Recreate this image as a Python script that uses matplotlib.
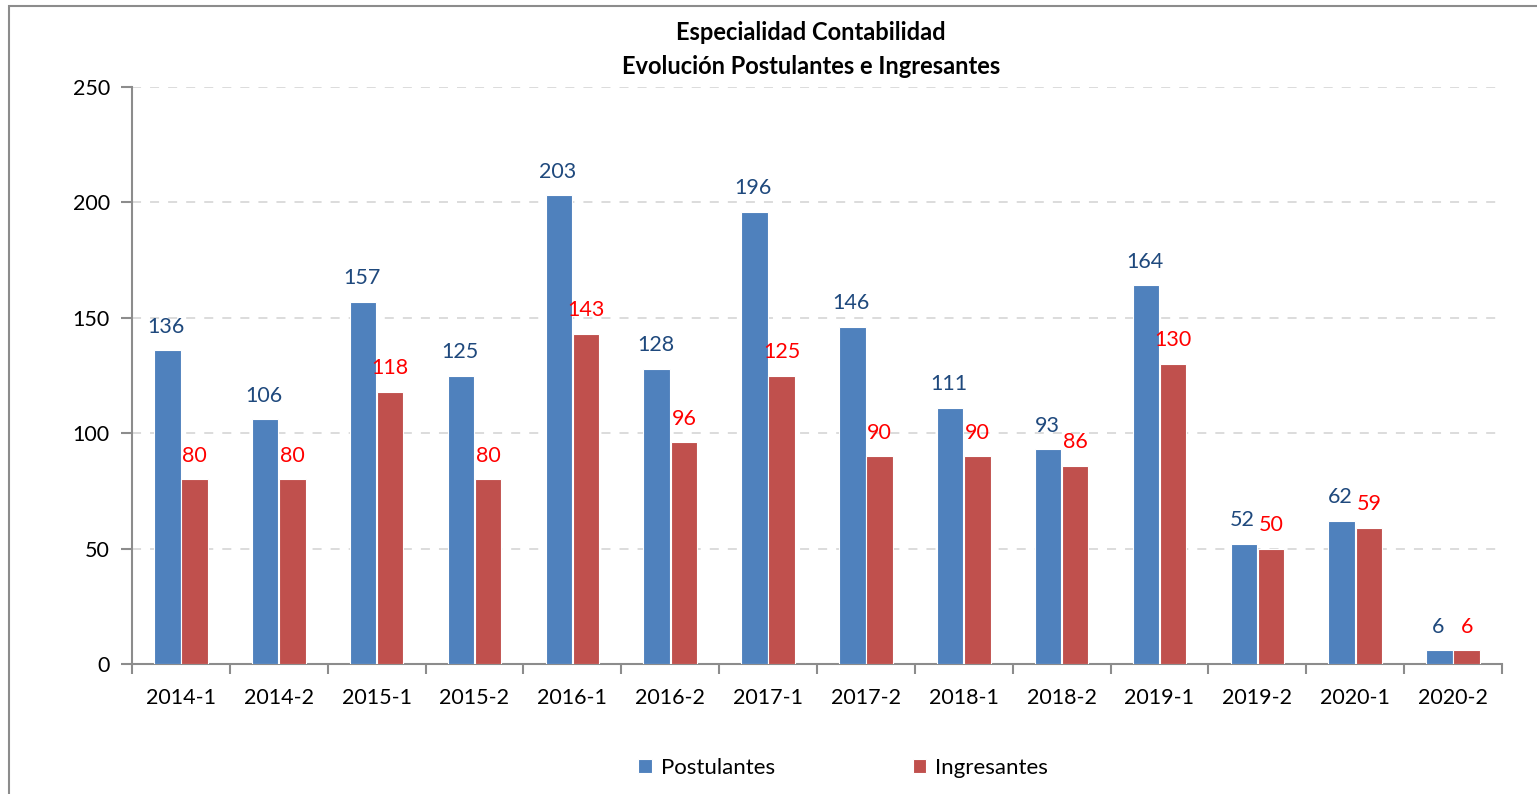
import matplotlib.pyplot as plt
import numpy as np

# datos
periodos = ["2014-1", "2014-2", "2015-1", "2015-2", "2016-1", "2016-2", "2017-1",
            "2017-2", "2018-1", "2018-2", "2019-1", "2019-2", "2020-1", "2020-2"]
postulantes = [136, 106, 157, 125, 203, 128, 196, 146, 111, 93, 164, 52, 62, 6]
ingresantes = [80, 80, 118, 80, 143, 96, 125, 90, 90, 86, 130, 50, 59, 6]

plt.rcParams['font.family'] = ['Lato', 'DejaVu Sans']

fig = plt.figure(figsize=(15.37, 7.94), dpi=100)
ax = fig.add_axes([132 / 1537, 1 - 664 / 794, (1502 - 132) / 1537, (664 - 87) / 794])

# marco exterior del grafico
borde = plt.Rectangle((9 / 1537, -0.05), 1.2, 1 - 6 / 794 + 0.05, transform=fig.transFigure,
                      fill=False, edgecolor="#8c8c8c", linewidth=1.5)
fig.patches.append(borde)

x = np.arange(len(periodos))
ancho = 0.27
azul = "#4F81BD"
rojo = "#C0504D"

ax.bar(x - 0.138, postulantes, ancho, color=azul, edgecolor="white", linewidth=0.8,
       label="Postulantes", zorder=3)
ax.bar(x + 0.138, ingresantes, ancho, color=rojo, edgecolor="white", linewidth=0.8,
       label="Ingresantes", zorder=3)

for xi, v in zip(x, postulantes):
    ax.annotate(str(v), (xi - 0.15, v), xytext=(0, 17), textcoords="offset points",
                ha="center", va="center", color="#1F497D", fontsize=15.5)
for xi, v in zip(x, ingresantes):
    ax.annotate(str(v), (xi + 0.14, v), xytext=(0, 17), textcoords="offset points",
                ha="center", va="center", color="#FF0000", fontsize=15.5)

ax.set_xlim(-0.5, len(periodos) - 0.5)
ax.set_ylim(0, 250)
ax.set_yticks([0, 50, 100, 150, 200, 250])
ax.set_xticks(x)
ax.set_xticklabels(periodos, fontsize=15.5)
ax.tick_params(axis="x", length=0, pad=17)
ax.set_xticks(np.arange(len(periodos) + 1) - 0.5, minor=True)
ax.tick_params(axis="x", which="minor", length=7, width=1.5, color="#8c8c8c", direction="out")
ax.tick_params(axis="y", labelsize=15.5, length=8, width=1.5, color="#8c8c8c", pad=8)

ax.yaxis.grid(True, linestyle=(0, (5, 5)), color="#d9d9d9", linewidth=1.3, zorder=0)
ax.set_axisbelow(True)
for lado in ["top", "right"]:
    ax.spines[lado].set_visible(False)
ax.spines["left"].set_color("#8c8c8c")
ax.spines["bottom"].set_color("#8c8c8c")
ax.spines["left"].set_linewidth(1.5)
ax.spines["bottom"].set_linewidth(1.5)

fig.text(811 / 1537, 1 - 33 / 794, "Especialidad Contabilidad", ha="center", va="center",
         fontsize=17, fontweight="bold")
fig.text(811 / 1537, 1 - 66 / 794, "Evolución Postulantes e Ingresantes", ha="center",
         va="center", fontsize=17, fontweight="bold")

fig.legend(loc="center", bbox_to_anchor=(843 / 1537, 1 - 768 / 794), ncol=2, frameon=False,
           fontsize=16, handlelength=0.6, handleheight=0.6, handletextpad=0.4,
           columnspacing=6.2)

fig.savefig("out.png", dpi=100)
